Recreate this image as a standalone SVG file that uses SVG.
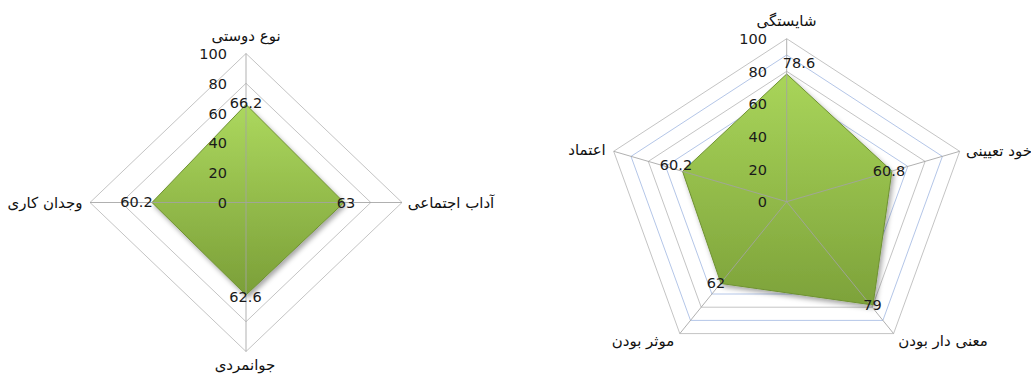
<svg xmlns="http://www.w3.org/2000/svg" width="1031" height="376" viewBox="0 0 1031 376">
<defs>
<linearGradient id="gL" x1="0" y1="0" x2="0" y2="1">
<stop offset="0" stop-color="#acd85e"/>
<stop offset="1" stop-color="#7b9f38"/>
</linearGradient>
<linearGradient id="gR" x1="0" y1="0" x2="0" y2="1">
<stop offset="0" stop-color="#a9d55a"/>
<stop offset="1" stop-color="#7da23a"/>
</linearGradient>
<filter id="sh" x="-20%" y="-20%" width="140%" height="140%">
<feDropShadow dx="2" dy="3" stdDeviation="2.5" flood-color="#000" flood-opacity="0.35"/>
</filter>
<style>
.ring{fill:none;stroke:#c4c4c4;stroke-width:1}
.minor{fill:none;stroke:#b4c6e8;stroke-width:1}
.spoke{stroke:#a3a3a3;stroke-width:1;opacity:0.85}
.tick{font-family:"DejaVu Sans",sans-serif;font-size:14.5px;fill:#1a1a1a;text-anchor:end}
.val{font-family:"DejaVu Sans",sans-serif;font-size:14.5px;fill:#1a1a1a;text-anchor:middle}
.cat{font-family:"DejaVu Sans","Noto Sans",sans-serif;font-size:15px;fill:#111;text-anchor:middle}
.area{stroke:#6f9232;stroke-width:1;filter:url(#sh)}
</style>
</defs>
<rect width="1031" height="376" fill="#fff"/>

<g id="chart-left">
<g id="left-grid">
<polygon class="ring" points="246,53.5 402,202.5 246,351.5 90,202.5"/>
<polygon class="ring" points="246,83.3 370.8,202.5 246,321.7 121.2,202.5"/>
<polygon class="ring" points="246,113.1 339.6,202.5 246,291.9 152.4,202.5"/>
<polygon class="ring" points="246,142.9 308.4,202.5 246,262.1 183.6,202.5"/>
<polygon class="ring" points="246,172.7 277.2,202.5 246,232.3 214.8,202.5"/>
</g>
<polygon id="left-area" class="area" fill="url(#gL)" points="246,104.5 344,202.5 246,295 152,202.5"/>
<g id="left-spokes">
<line class="spoke" x1="246" y1="53.5" x2="246" y2="351.5"/>
<line class="spoke" x1="90" y1="202.5" x2="402" y2="202.5"/>
</g>
<g id="left-ticks">
<text class="tick" x="227" y="59">100</text>
<text class="tick" x="227" y="89">80</text>
<text class="tick" x="227" y="119">60</text>
<text class="tick" x="227" y="148">40</text>
<text class="tick" x="227" y="178">20</text>
<text class="tick" x="227" y="208">0</text>
</g>
<g id="left-values">
<text class="val" x="246" y="108">66.2</text>
<text class="val" x="346" y="208">63</text>
<text class="val" x="245.5" y="302">62.6</text>
<text class="val" x="136.5" y="207">60.2</text>
</g>
<g id="left-labels">
<text class="cat" x="246" y="41">نوع دوستی</text>
<text class="cat" x="451" y="208">آداب اجتماعی</text>
<text class="cat" x="245" y="370">جوانمردی</text>
<text class="cat" x="45" y="208">وجدان کاری</text>
</g>
</g>

<g id="chart-right">
<g id="right-grid">
<polygon class="ring" points="786.7,38.7 959.7,151.3 893.6,333.6 679.8,333.6 613.7,151.3"/>
<polygon class="minor" points="786.7,55 942.4,156.4 882.9,320.4 690.5,320.4 631,156.4"/>
<polygon class="ring" points="786.7,71.3 925.1,161.4 872.2,307.2 701.2,307.2 648.3,161.4"/>
<polygon class="minor" points="786.7,87.6 907.8,166.4 861.5,294 711.9,294 665.6,166.4"/>
<polygon class="ring" points="786.7,103.9 890.5,171.5 850.8,280.8 722.6,280.8 682.9,171.5"/>
</g>
<polygon id="right-area" class="area" fill="url(#gR)" points="786.7,74 891.9,171.1 873,305 721,283.5 682.6,171.4"/>
<g id="right-spokes">
<line class="spoke" x1="786.7" y1="201.7" x2="786.7" y2="38.7"/>
<line class="spoke" x1="786.7" y1="201.7" x2="959.7" y2="151.3"/>
<line class="spoke" x1="786.7" y1="201.7" x2="893.6" y2="333.6"/>
<line class="spoke" x1="786.7" y1="201.7" x2="679.8" y2="333.6"/>
<line class="spoke" x1="786.7" y1="201.7" x2="613.7" y2="151.3"/>
</g>
<g id="right-ticks">
<text class="tick" x="767" y="43.5">100</text>
<text class="tick" x="767" y="76.5">80</text>
<text class="tick" x="767" y="109">60</text>
<text class="tick" x="767" y="141.5">40</text>
<text class="tick" x="767" y="174.5">20</text>
<text class="tick" x="767" y="207">0</text>
</g>
<g id="right-values">
<text class="val" x="799" y="68">78.6</text>
<text class="val" x="889" y="176">60.8</text>
<text class="val" x="872.5" y="310">79</text>
<text class="val" x="716" y="288">62</text>
<text class="val" x="676" y="170">60.2</text>
</g>
<g id="right-labels">
<text class="cat" x="786.5" y="26">شایستگی</text>
<text class="cat" x="999" y="156">خود تعیینی</text>
<text class="cat" x="587" y="155">اعتماد</text>
<text class="cat" x="943" y="346">معنی دار بودن</text>
<text class="cat" x="643" y="346">موثر بودن</text>
</g>
</g>
</svg>
